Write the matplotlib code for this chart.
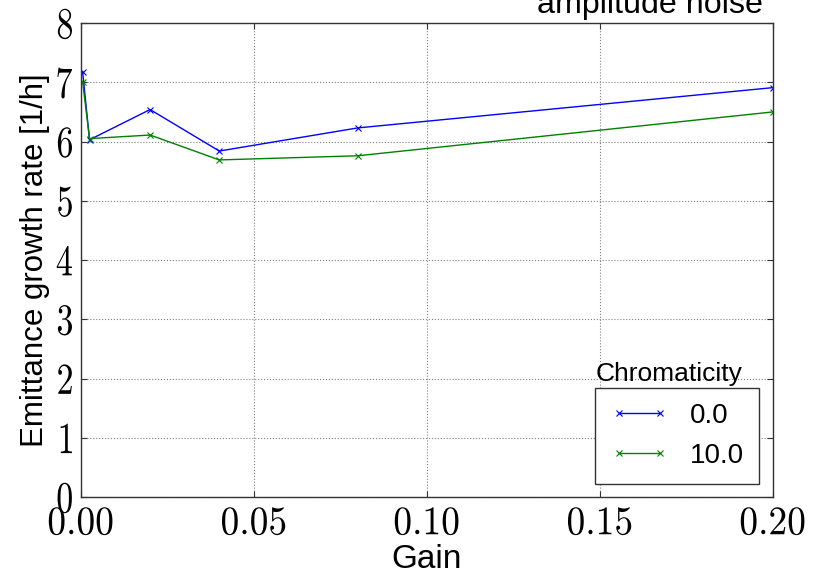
import matplotlib
matplotlib.use('Agg')
import matplotlib.pyplot as plt
from matplotlib import patheffects
from matplotlib.transforms import Affine2D
from matplotlib.ticker import FuncFormatter

plt.rcParams['mathtext.fontset'] = 'cm'
plt.rcParams['font.family'] = ['Liberation Sans', 'DejaVu Sans']

gain = [0.0005, 0.0025, 0.02, 0.04, 0.08, 0.2]
growth_chroma_0 = [7.18, 6.03, 6.54, 5.84, 6.23, 6.91]
growth_chroma_10 = [7.01, 6.05, 6.11, 5.69, 5.76, 6.50]
chromaticities = ['0.0', '10.0']


class Stretch(patheffects.AbstractPathEffect):
    """Scale a glyph path about its own centre."""
    def __init__(self, sx=1.0, sy=1.0):
        super().__init__()
        self.sx, self.sy = sx, sy

    def draw_path(self, renderer, gc, tpath, affine, rgbFace=None):
        ext = tpath.get_extents()
        cx = 0.5 * (ext.x0 + ext.x1)
        cy = 0.5 * (ext.y0 + ext.y1)
        t = (Affine2D().translate(-cx, -cy).scale(self.sx, self.sy)
             .translate(cx, cy) + affine)
        renderer.draw_path(gc, tpath, t, rgbFace)


fig = plt.figure(figsize=(8.17, 5.76), dpi=100)
ax = fig.add_axes([0.099, 0.137, 0.847, 0.823])

ax.plot(gain, growth_chroma_0, color=(0, 0, 1), marker='x', markersize=5,
        markeredgewidth=0.8, linewidth=1.0, label=chromaticities[0])
ax.plot(gain, growth_chroma_10, color=(0, 0.5, 0), marker='x', markersize=5,
        markeredgewidth=0.8, linewidth=1.0, label=chromaticities[1])

ax.set_xlim(0, 0.2)
ax.set_ylim(0, 8)
ax.set_xticks([0.0, 0.05, 0.10, 0.15, 0.20])
ax.set_yticks(range(0, 9))
ax.xaxis.set_major_formatter(FuncFormatter(lambda v, p: r'$%.2f$' % v))
ax.yaxis.set_major_formatter(FuncFormatter(lambda v, p: r'$%d$' % v))
ax.tick_params(direction='in', length=4, color='0.2', top=True, right=True)
ax.tick_params(axis='x', labelsize=27, pad=6)
ax.tick_params(axis='y', labelsize=24.5, pad=5)
for lbl in ax.get_yticklabels():
    lbl.set_path_effects([Stretch(1.0, 1.3)])
for lbl in ax.get_xticklabels():
    lbl.set_path_effects([Stretch(1.0, 1.08)])
ax.grid(True, linestyle=':', color='0.5', linewidth=0.8)
for s in ax.spines.values():
    s.set_color('0.2')
    s.set_linewidth(1.0)

ax.set_xlabel('Gain', fontsize=24, labelpad=2)
ax.set_ylabel('Emittance growth rate [1/h]', fontsize=22.5, labelpad=4)

fig.text(0.795, 0.978, 'amplitude noise', fontsize=23.2, ha='center',
         va='baseline')

leg = ax.legend(loc='lower right', bbox_to_anchor=(0.98, 0.027),
                borderaxespad=0, fontsize=20, numpoints=2, fancybox=False,
                edgecolor='0.2', framealpha=1, handlelength=2.1,
                handletextpad=0.75, borderpad=0.55, labelspacing=0.5)
leg.get_frame().set_linewidth(1.0)

# legend heading sits just above the frame
fig.canvas.draw()
box = leg.get_frame().get_window_extent().transformed(fig.transFigure.inverted())
fig.text(box.x0, box.y1 + 0.004, 'Chromaticity', fontsize=19, ha='left',
         va='bottom')

fig.savefig('out.png', dpi=100)
